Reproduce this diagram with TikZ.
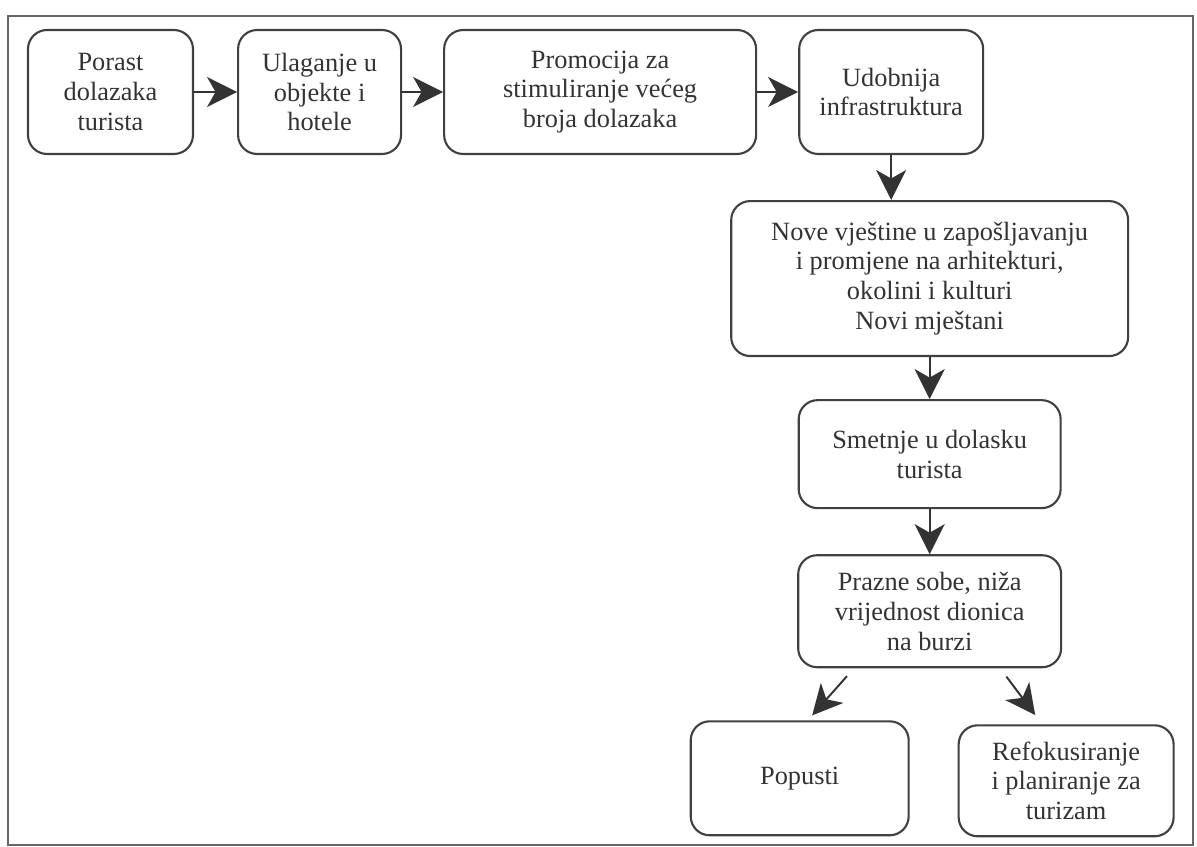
\documentclass[tikz,border=0pt]{standalone}
\usepackage{fontspec}
\setmainfont{Liberation Serif}
\usetikzlibrary{arrows.meta,positioning}
\newcommand{\boxfont}{\fontsize{15}{17}\selectfont}

\begin{document}
\begin{tikzpicture}[x=0.02cm, y=-0.02cm,
  box/.style={draw=black!75, line width=1.2pt, rounded corners=0.38cm, align=center,
    font=\boxfont, text=black!80, inner sep=2pt},
  arr/.style={-{Stealth[length=0.6cm, width=0.6cm, inset=0.17cm]}, line width=1.1pt, draw=black!80}
]
\useasboundingbox (0,0) rectangle (1197,847);
\draw[black!60, line width=1pt] (8,16) rectangle (1193,845);
% top row
\node[box, minimum width=3.3cm, minimum height=2.48cm] (porast) at (110.5,92) {Porast\\dolazaka\\turista};
\node[box, minimum width=3.26cm, minimum height=2.48cm, right=0.86cm of porast] (ulaganje) {Ulaganje u\\objekte i\\hotele};
\node[box, minimum width=6.24cm, minimum height=2.48cm, right=0.82cm of ulaganje] (promocija) {Promocija za\\stimuliranje većeg\\broja dolazaka};
\node[box, minimum width=3.68cm, minimum height=2.48cm, right=0.82cm of promocija] (udobnija) {Udobnija\\infrastruktura};
% chain downwards
\node[box, minimum width=7.94cm, minimum height=3.1cm, below=0.9cm of udobnija, xshift=0.77cm] (nove)
  {Nove vještine u zapošljavanju\\i promjene na arhitekturi,\\okolini i kulturi\\Novi mještani};
\node[box, minimum width=5.24cm, minimum height=2.16cm, below=0.84cm of nove] (smetnje) {Smetnje u dolasku\\turista};
\node[box, minimum width=5.26cm, minimum height=2.24cm, below=0.9cm of smetnje] (prazne) {Prazne sobe, niža\\vrijednost dionica\\na burzi};
\node[box, minimum width=4.36cm, minimum height=2.28cm, below=1.04cm of prazne, xshift=-2.6cm] (popusti) {Popusti};
\node[box, minimum width=4.3cm, minimum height=2.22cm, below=1.12cm of prazne, xshift=2.73cm] (refok) {Refokusiranje\\i planiranje za\\turizam};
% connectors
\draw[arr] (porast) -- (ulaganje);
\draw[arr] (ulaganje) -- (promocija);
\draw[arr] (promocija) -- (udobnija);
\draw[arr] (udobnija.south) -- (udobnija.south |- nove.north);
\draw[arr] (nove) -- (smetnje);
\draw[arr] (smetnje) -- (prazne);
\draw[arr, shorten <=0.21cm, shorten >=0.13cm] (prazne.-143) -- (popusti.82);
\draw[arr, shorten <=0.21cm, shorten >=0.23cm] (prazne.-39) -- (refok.113);
\end{tikzpicture}
\end{document}
